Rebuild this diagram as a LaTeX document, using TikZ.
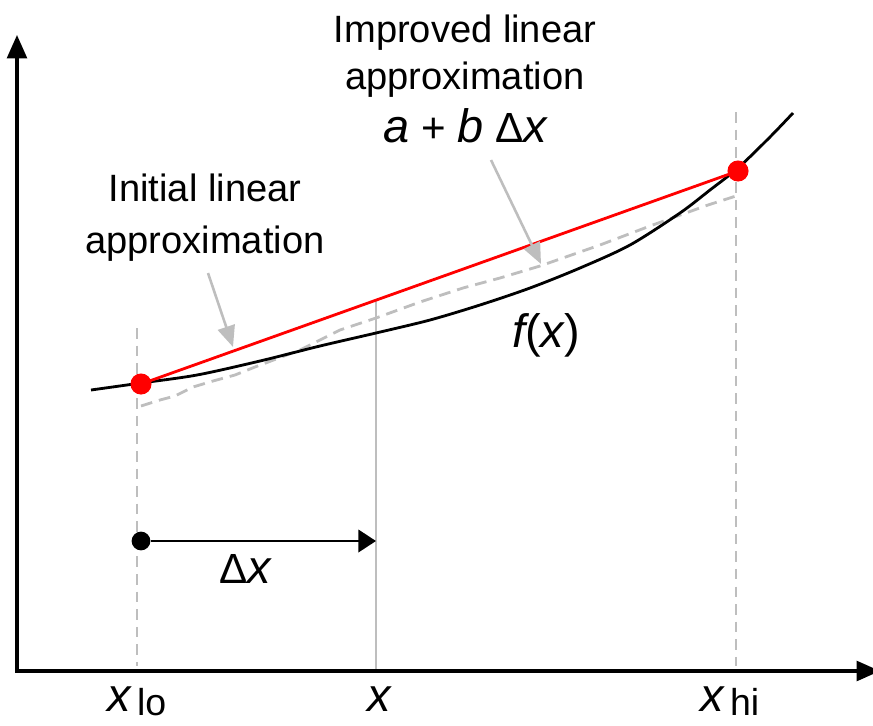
\documentclass[tikz,border=0pt]{standalone}
\usepackage{fontspec}
\setmainfont{Liberation Sans}
\usetikzlibrary{arrows.meta}
\definecolor{lgray}{RGB}{190,190,190}
\newcommand{\mvar}[1]{{\fontsize{40}{40}\selectfont\itshape #1}}

\begin{document}
\begin{tikzpicture}[x=0.03cm,y=-0.03cm,
  lbl/.style={font=\fontsize{32.5}{44}\selectfont,align=center,inner sep=0pt},
  guide/.style={lgray,line width=1.8pt},
  dashguide/.style={lgray,line width=2pt,dash pattern=on 9pt off 6pt},
  pointer/.style={lgray,line width=2.2pt,-{Triangle[length=18pt,width=15pt]}},
  rdot/.style={circle,fill=red,inner sep=0pt,minimum size=18pt},
  bdot/.style={circle,fill=black,inner sep=0pt,minimum size=16pt}]
  \useasboundingbox (0,0) rectangle (873,725);
  \coordinate (T) at (17,35);
  \coordinate (O) at (17,671);
  \coordinate (E) at (880,671);
  \coordinate (L) at (141,384);
  \coordinate (H) at (738,171);
  \coordinate (LT) at (137,328);
  \coordinate (LB) at (137,666);
  \coordinate (XT) at (376,300);
  \coordinate (XB) at (376,671);
  \coordinate (HT) at (736,112);
  \coordinate (HB) at (736,666);
  \draw[dashguide] (LT) -- (LB);
  \draw[dashguide] (HT) -- (HB);
  \draw[guide] (XT) -- (XB);
  \draw[line width=2.6pt,{Triangle[length=20pt,width=17pt]}-{Triangle[length=20pt,width=17pt]}] (T) -- (O) -- (E);
  \draw[lgray,line width=2.4pt,dash pattern=on 10pt off 6pt] plot coordinates {(141,406) (160,400) (175,396) (193,387) (213,381) (235,375) (255,367) (300,350) (340,330) (376,318) (420,302) (463,288) (500,278) (540,266) (600,245) (650,226) (672,218) (708,205) (736,196)};
  \draw[line width=2.4pt] plot[smooth] coordinates {(91,390) (141,383) (197,375) (260,361) (320,346) (376,333) (430,320) (480,305) (530,288) (580,268) (630,245) (680,213) (710,190) (738,168) (770,137) (793,113)};
  \draw[red,line width=2.4pt] (L) -- (H);
  \node[rdot] (lo) at (L) {};
  \node[rdot] (hi) at (H) {};
  \node[lbl] (init) at (205,217.5) {Initial linear\\approximation};
  \node[lbl,font=\fontsize{32.5}{40}\selectfont] (impr) at (465,79) {Improved linear\\approximation\\[6pt]{\fontsize{36}{36}\selectfont\mvar{a} + \mvar{b} Δ\mvar{x}}};
  \coordinate (S1) at (208,273);
  \coordinate (P1) at (233,347);
  \coordinate (S2) at (491,160);
  \coordinate (P2) at (541,264);
  \draw[pointer] (S1) -- (P1);
  \draw[pointer] (S2) -- (P2);
  \node[anchor=base,inner sep=0pt,font=\fontsize{40}{40}\selectfont] (fx) at (546,347) {\mvar{f}(\mvar{x})};
  \node[bdot] (dx0) at (141,541) {};
  \coordinate (dx1) at (376,541);
  \draw[line width=2.4pt,-{Triangle[length=15pt,width=19pt]}] (dx0) -- (dx1);
  \node[anchor=base,inner sep=0pt,font=\fontsize{36}{36}\selectfont] (dxl) at (245,583) {Δ\mvar{x}};
  \node[anchor=base,inner sep=0pt] (xlo) at (137,711) {\mvar{x}\hspace{5pt}\raisebox{-4pt}{\fontsize{32}{32}\selectfont lo}};
  \node[anchor=base,inner sep=0pt] (xmid) at (379,711) {\mvar{x}};
  \node[anchor=base,inner sep=0pt] (xhi) at (730,711) {\mvar{x}\hspace{5pt}\raisebox{-4pt}{\fontsize{32}{32}\selectfont hi}};
\end{tikzpicture}
\end{document}
